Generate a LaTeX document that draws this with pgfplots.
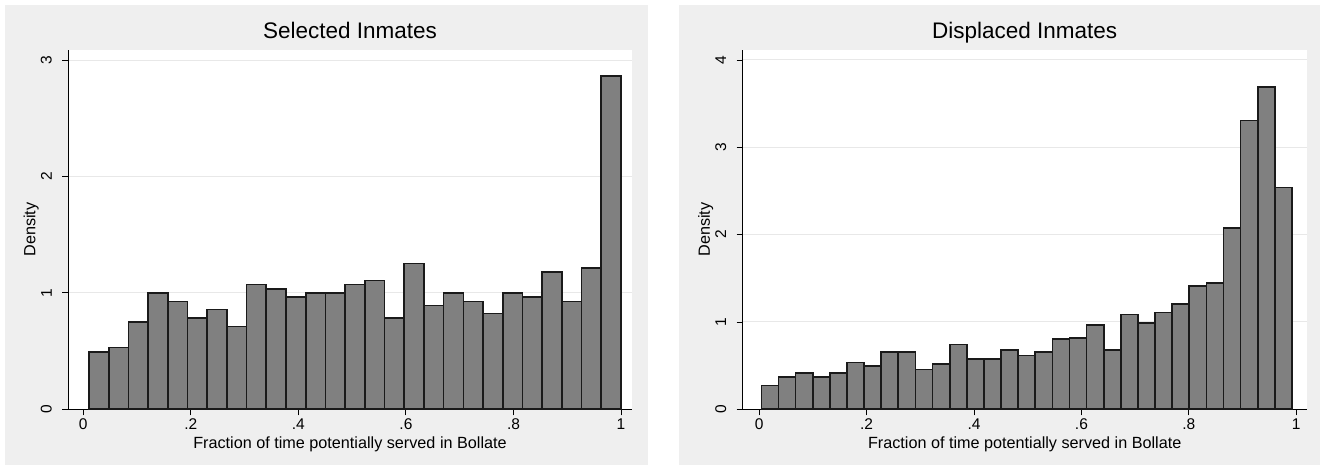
\documentclass[border=0pt]{standalone}
\usepackage{fontspec}
\setmainfont{Liberation Sans}
\usepackage{pgfplots}
\pgfplotsset{compat=1.18}
\definecolor{panelgray}{RGB}{239,239,239}
\definecolor{gridgray}{RGB}{232,232,232}
\definecolor{barfill}{RGB}{128,128,128}
\definecolor{baredge}{RGB}{26,26,26}
\pgfplotsset{
  statastyle/.style={
    scale only axis,
    axis background/.style={fill=white},
    axis x line*=bottom, axis y line*=left,
    axis line style={black, line width=1bp},
    tick align=outside,
    major tick length=6bp,
    tick style={black, line width=0.9bp},
    ymajorgrids, grid style={gridgray, line width=1bp},
    xtick={0,0.2,0.4,0.6,0.8,1},
    xticklabels={0,.2,.4,.6,.8,1},
    ymin=0,
    ticklabel style={font=\fontsize{15.5bp}{18bp}\selectfont},
    yticklabel style={rotate=90, anchor=south},
    yticklabel shift=7bp,
    label style={font=\fontsize{16.2bp}{19bp}\selectfont},
    xlabel={Fraction of time potentially served in Bollate},
    xlabel style={at={(axis description cs:0.5,0)}, anchor=base, yshift=-39bp},
    ylabel={Density},
    ylabel style={at={(axis description cs:-0.0657,0.5)}, anchor=center},
    title style={font=\fontsize{22.5bp}{26bp}\selectfont, at={(axis description cs:0.5,1)}, anchor=base, yshift=5.5bp},
    /pgf/number format/assume math mode=true,
  },
  statabar/.style={ybar interval, fill=barfill, draw=baredge, line width=1.7bp},
}
\begin{document}
\begin{tikzpicture}
\fill[white] (0bp,0bp) rectangle (1325bp,470bp);
\fill[panelgray] (5bp,5bp) rectangle (648.3bp,465bp);
\fill[panelgray] (679bp,5bp) rectangle (1320bp,465bp);

\begin{axis}[statastyle,
  at={(68.3bp,60.7bp)}, anchor=south west,
  width=563.4bp, height=359.3bp,
  xmin=-0.0279, xmax=1.0199, ymax=3.086,
  ytick={0,1,2,3}, yticklabels={0,1,2,3},
  title={Selected Inmates}]
\addplot[statabar] coordinates {
(0.0106,0.494) (0.0472,0.532) (0.0839,0.747) (0.1205,1.000) (0.1572,0.925)
(0.1938,0.782) (0.2304,0.856) (0.2671,0.710) (0.3037,1.072) (0.3404,1.034)
(0.3770,0.963) (0.4136,1.000) (0.4503,1.000) (0.4869,1.072) (0.5236,1.106)
(0.5602,0.782) (0.5968,1.253) (0.6335,0.891) (0.6701,1.000) (0.7068,0.925)
(0.7434,0.822) (0.7800,1.000) (0.8167,0.963) (0.8533,1.181) (0.8900,0.925)
(0.9266,1.216) (0.9632,2.865) (1.0000,2.865)
};
\end{axis}

\begin{axis}[statastyle,
  at={(742.7bp,60.7bp)}, anchor=south west,
  width=564bp, height=359.3bp,
  xmin=-0.0305, xmax=1.0194, ymax=4.114,
  ytick={0,1,2,3,4}, yticklabels={0,1,2,3,4},
  title={Displaced Inmates}]
\addplot[statabar] coordinates {
(0.0043,0.272) (0.0362,0.372) (0.0680,0.418) (0.0999,0.372) (0.1317,0.418)
(0.1636,0.536) (0.1955,0.498) (0.2273,0.659) (0.2592,0.659) (0.2910,0.456)
(0.3229,0.517) (0.3548,0.743) (0.3866,0.575) (0.4185,0.575) (0.4503,0.682)
(0.4822,0.617) (0.5141,0.659) (0.5459,0.801) (0.5778,0.820) (0.6096,0.966)
(0.6415,0.682) (0.6734,1.086) (0.7052,0.985) (0.7371,1.107) (0.7689,1.207)
(0.8008,1.410) (0.8327,1.448) (0.8645,2.074) (0.8964,3.308) (0.9282,3.690)
(0.9601,2.541) (0.9920,2.541)
};
\end{axis}
\end{tikzpicture}
\end{document}
